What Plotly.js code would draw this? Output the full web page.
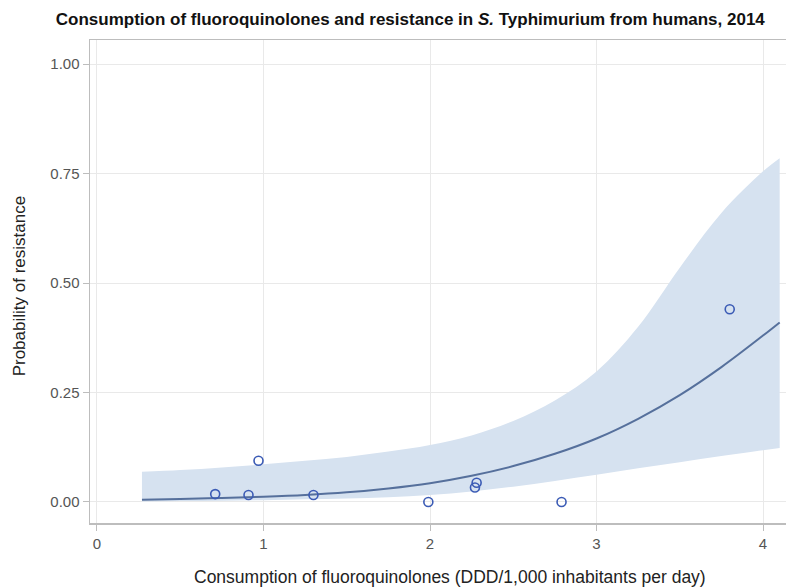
<!DOCTYPE html>
<html>
<head>
<meta charset="utf-8">
<script src="https://cdn.plot.ly/plotly-3.0.1.min.js"></script>
<style>html,body{margin:0;padding:0;background:#fff;}#chart{width:786px;height:587px;}</style>
</head>
<body>
<div id="chart"></div>
<script>
// Observed data points (consumption, proportion resistant)
const obsX = [0.71, 0.91, 0.97, 1.30, 1.99, 2.27, 2.28, 2.79, 3.80];
const obsY = [0.018, 0.016, 0.094, 0.016, 0.000, 0.033, 0.044, 0.000, 0.440];

// Fitted curve
const fitX = [0.27, 0.5, 0.75, 1.0, 1.25, 1.5, 1.75, 2.0, 2.25, 2.5, 2.75, 3.0, 3.25, 3.5, 3.75, 4.0, 4.1];
const fitY = [0.005, 0.007, 0.009, 0.012, 0.016, 0.022, 0.031, 0.043, 0.060, 0.082, 0.110, 0.145, 0.190, 0.244, 0.308, 0.380, 0.410];

// Confidence band
const bandX = [0.27, 0.5, 0.75, 1.0, 1.25, 1.5, 1.75, 2.0, 2.25, 2.5, 2.75, 3.0, 3.25, 3.5, 3.75, 4.0, 4.1];
const bandLow = [0.001, 0.002, 0.003, 0.004, 0.006, 0.008, 0.011, 0.016, 0.024, 0.035, 0.048, 0.062, 0.077, 0.091, 0.105, 0.118, 0.123];
const bandHigh = [0.069, 0.073, 0.079, 0.086, 0.094, 0.103, 0.115, 0.130, 0.152, 0.185, 0.232, 0.298, 0.400, 0.535, 0.660, 0.755, 0.785];

const xTicks = [0, 1, 2, 3, 4];
const yTicks = [0, 0.25, 0.5, 0.75, 1.0];

const traces = [
  {x: bandX, y: bandLow, type: 'scatter', mode: 'lines', line: {width: 0, shape: 'spline'}, hoverinfo: 'skip', showlegend: false},
  {x: bandX, y: bandHigh, type: 'scatter', mode: 'lines', line: {width: 0, shape: 'spline'}, fill: 'tonexty', fillcolor: 'rgb(214,226,240)', hoverinfo: 'skip', showlegend: false},
  {x: fitX, y: fitY, type: 'scatter', mode: 'lines', line: {color: '#56709c', width: 2, shape: 'spline'}, showlegend: false},
  {x: obsX, y: obsY, type: 'scatter', mode: 'markers', marker: {symbol: 'circle-open', size: 9, color: '#3b5bb5', line: {width: 1.6, color: '#3b5bb5'}}, showlegend: false}
];

const FONT = 'Liberation Sans, Arial, sans-serif';
const axisFont = {family: FONT, size: 15, color: '#555'};

const layout = {
  width: 786, height: 587,
  margin: {l: 90, r: 0, t: 40, b: 64},
  paper_bgcolor: '#fff', plot_bgcolor: '#fff',
  title: {
    text: 'Consumption of fluoroquinolones and resistance in <i>S.</i> Typhimurium from humans, 2014',
    font: {family: FONT, size: 17, color: '#111', weight: 'bold'},
    x: 0.522, xref: 'container', xanchor: 'center', y: 0.968, yref: 'container', yanchor: 'middle'
  },
  xaxis: {
    range: [-0.042, 4.138], tickvals: xTicks, ticktext: xTicks.map(String),
    showgrid: true, gridcolor: '#e9e9e9', gridwidth: 1, zeroline: false,
    showline: true, linecolor: '#bdbdbd', linewidth: 1.5, mirror: true,
    ticks: 'outside', ticklen: 6, tickcolor: '#bdbdbd', tickfont: axisFont
  },
  yaxis: {
    range: [-0.048, 1.055], tickvals: yTicks, tickformat: '.2f',
    showgrid: true, gridcolor: '#e9e9e9', gridwidth: 1, zeroline: false,
    showline: true, linecolor: '#bdbdbd', linewidth: 1.5, mirror: true,
    ticks: 'outside', ticklen: 6, tickcolor: '#bdbdbd', tickfont: axisFont
  },
  annotations: [
    {text: 'Consumption of fluoroquinolones (DDD/1,000 inhabitants per day)',
     xref: 'paper', yref: 'paper', x: 0.517, y: -0.112, xanchor: 'center', yanchor: 'middle',
     showarrow: false, font: {family: FONT, size: 17.5, color: '#222'}},
    {text: 'Probability of resistance', textangle: -90,
     xref: 'paper', yref: 'paper', x: -0.102, y: 0.49, xanchor: 'center', yanchor: 'middle',
     showarrow: false, font: {family: FONT, size: 17, color: '#222'}}
  ]
};

Plotly.newPlot('chart', traces, layout, {displayModeBar: false, staticPlot: true});
</script>
</body>
</html>
